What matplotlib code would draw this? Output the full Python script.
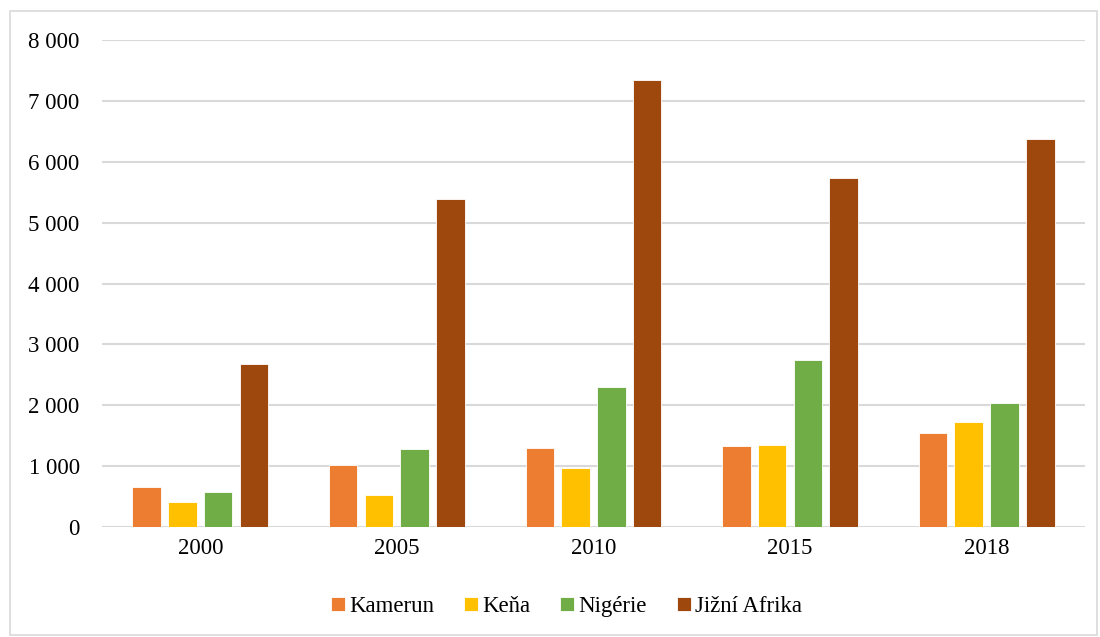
import numpy as np
import matplotlib.pyplot as plt
from matplotlib.patches import Rectangle
from matplotlib.ticker import FuncFormatter

years = ['2000', '2005', '2010', '2015', '2018']
kamerun = [655, 1015, 1295, 1325, 1545]
kena = [410, 525, 965, 1345, 1725]
nigerie = [575, 1280, 2295, 2740, 2035]
jizni_afrika = [2680, 5390, 7345, 5735, 6375]

series = [
    ('Kamerun', kamerun, '#ed7d31'),
    ('Keňa', kena, '#ffc000'),
    ('Nigérie', nigerie, '#70ad47'),
    ('Jižní Afrika', jizni_afrika, '#9e480e'),
]

plt.rcParams['font.family'] = ['Liberation Serif', 'DejaVu Serif']
plt.rcParams['font.size'] = 16.5

fig = plt.figure(figsize=(11, 6.37), dpi=100)
ax = fig.add_axes([0.0927, 0.1727, 0.8936, 0.7643])

x = np.arange(len(years))
step = 0.182
width = 0.145
for i, (name, vals, color) in enumerate(series):
    ax.bar(x + (i - 1.5) * step, vals, width, color=color, label=name,
           edgecolor='white', linewidth=0.6, zorder=3)

ax.set_xlim(-0.5, len(years) - 0.5)
ax.set_ylim(0, 8000)
ax.set_yticks(np.arange(0, 8001, 1000))
ax.yaxis.set_major_formatter(FuncFormatter(lambda v, p: f'{int(v):,}'.replace(',', ' ')))
ax.set_xticks(x)
ax.set_xticklabels(years)
ax.tick_params(length=0, pad=8)
ax.tick_params(axis='y', pad=16)
ax.grid(axis='y', color='#d9d9d9', linewidth=1.5, zorder=0)
for s in ax.spines.values():
    s.set_visible(False)

fig.legend(loc='center', bbox_to_anchor=(0.515, 0.048), ncol=4, frameon=False,
           prop={'family': 'Liberation Serif', 'size': 16.5},
           handlelength=0.6, handleheight=0.6, handletextpad=0.2, columnspacing=1.3)

fig.patches.append(Rectangle((0.009, 0.003), 0.988, 0.98, transform=fig.transFigure,
                             fill=False, edgecolor='#d9d9d9', linewidth=1.2))

fig.savefig('out.png', dpi=100)
